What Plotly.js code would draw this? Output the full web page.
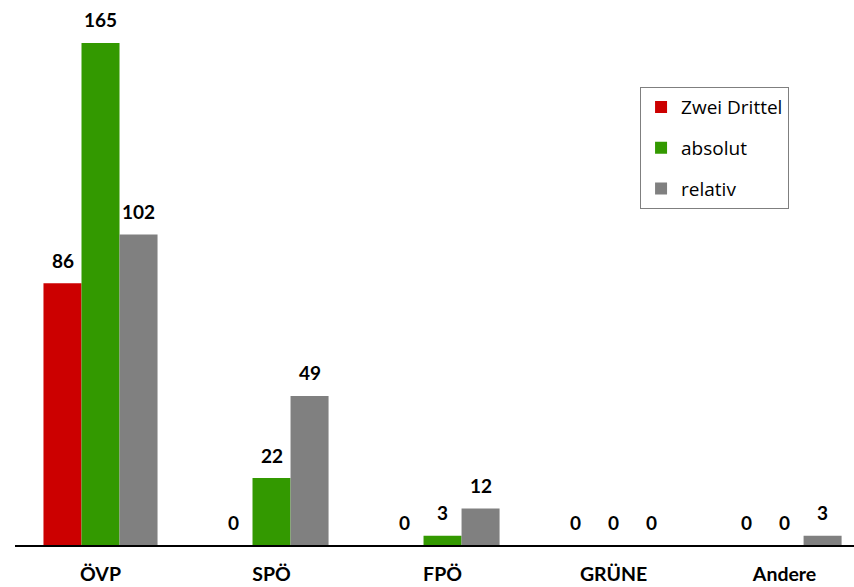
<!DOCTYPE html>
<html>
<head>
<meta charset="utf-8">
<script src="https://cdn.plot.ly/plotly-3.0.1.min.js"></script>
<style>html,body{margin:0;padding:0;background:#fff;}#chart{width:854px;height:587px;}</style>
</head>
<body>
<div id="chart"></div>
<script>
const categories = ['ÖVP', 'SPÖ', 'FPÖ', 'GRÜNE', 'Andere'];
const seriesNames = ['Zwei Drittel', 'absolut', 'relativ'];
const zweiDrittel = [86, 0, 0, 0, 0];
const absolut = [165, 22, 3, 0, 0];
const relativ = [102, 49, 12, 0, 3];
const colors = ['#CC0000', '#339900', '#808080'];

const allSeries = [zweiDrittel, absolut, relativ];
const FONT = 'Lato, "Open Sans", sans-serif';
const LEGFONT = '"Open Sans", Lato, sans-serif';

const traces = allSeries.map((vals, i) => ({
  type: 'bar',
  name: seriesNames[i],
  x: categories,
  y: vals,
  marker: {color: colors[i], line: {width: 0}},
  legendgroup: 'g' + i,
  hoverinfo: 'x+y+name'
}));

const barPx = 38;
const annotations = [];
allSeries.forEach((vals, i) => {
  vals.forEach((v, j) => {
    annotations.push({
      x: categories[j], y: v, xref: 'x', yref: 'y',
      text: '<b>' + v + '</b>', showarrow: false,
      xshift: (i - 1) * barPx, yshift: 23, yanchor: 'middle',
      font: {family: FONT, size: 19, color: '#000'}
    });
  });
});

const layout = {
  width: 854, height: 587,
  margin: {l: 15, r: 0, t: 0, b: 42},
  paper_bgcolor: '#fff', plot_bgcolor: '#fff',
  barmode: 'group', bargap: 0.333, bargroupgap: 0,
  showlegend: true,
  legend: {
    x: 0.745, y: 0.840, xanchor: 'left', yanchor: 'top',
    bordercolor: '#7f7f7f', borderwidth: 1, bgcolor: '#fff',
    font: {family: LEGFONT, size: 19, color: '#000'},
    traceorder: 'grouped', tracegroupgap: 13,
    itemwidth: 30,
    entrywidth: 130, entrywidthmode: 'pixels'
  },
  xaxis: {
    type: 'category', range: [-0.5, 4.406],
    showline: true, linecolor: '#000', linewidth: 1.5,
    showgrid: false, zeroline: false, ticks: '',
    tickfont: {family: FONT, size: 19.5, color: '#000'},
    ticklabelstandoff: 11,
    tickprefix: '<b>', ticksuffix: '</b>'
  },
  yaxis: {
    range: [0, 179.1], visible: false, showgrid: false, zeroline: false
  },
  annotations: annotations
};

Plotly.newPlot('chart', traces, layout, {displayModeBar: false, staticPlot: true});
</script>
</body>
</html>
